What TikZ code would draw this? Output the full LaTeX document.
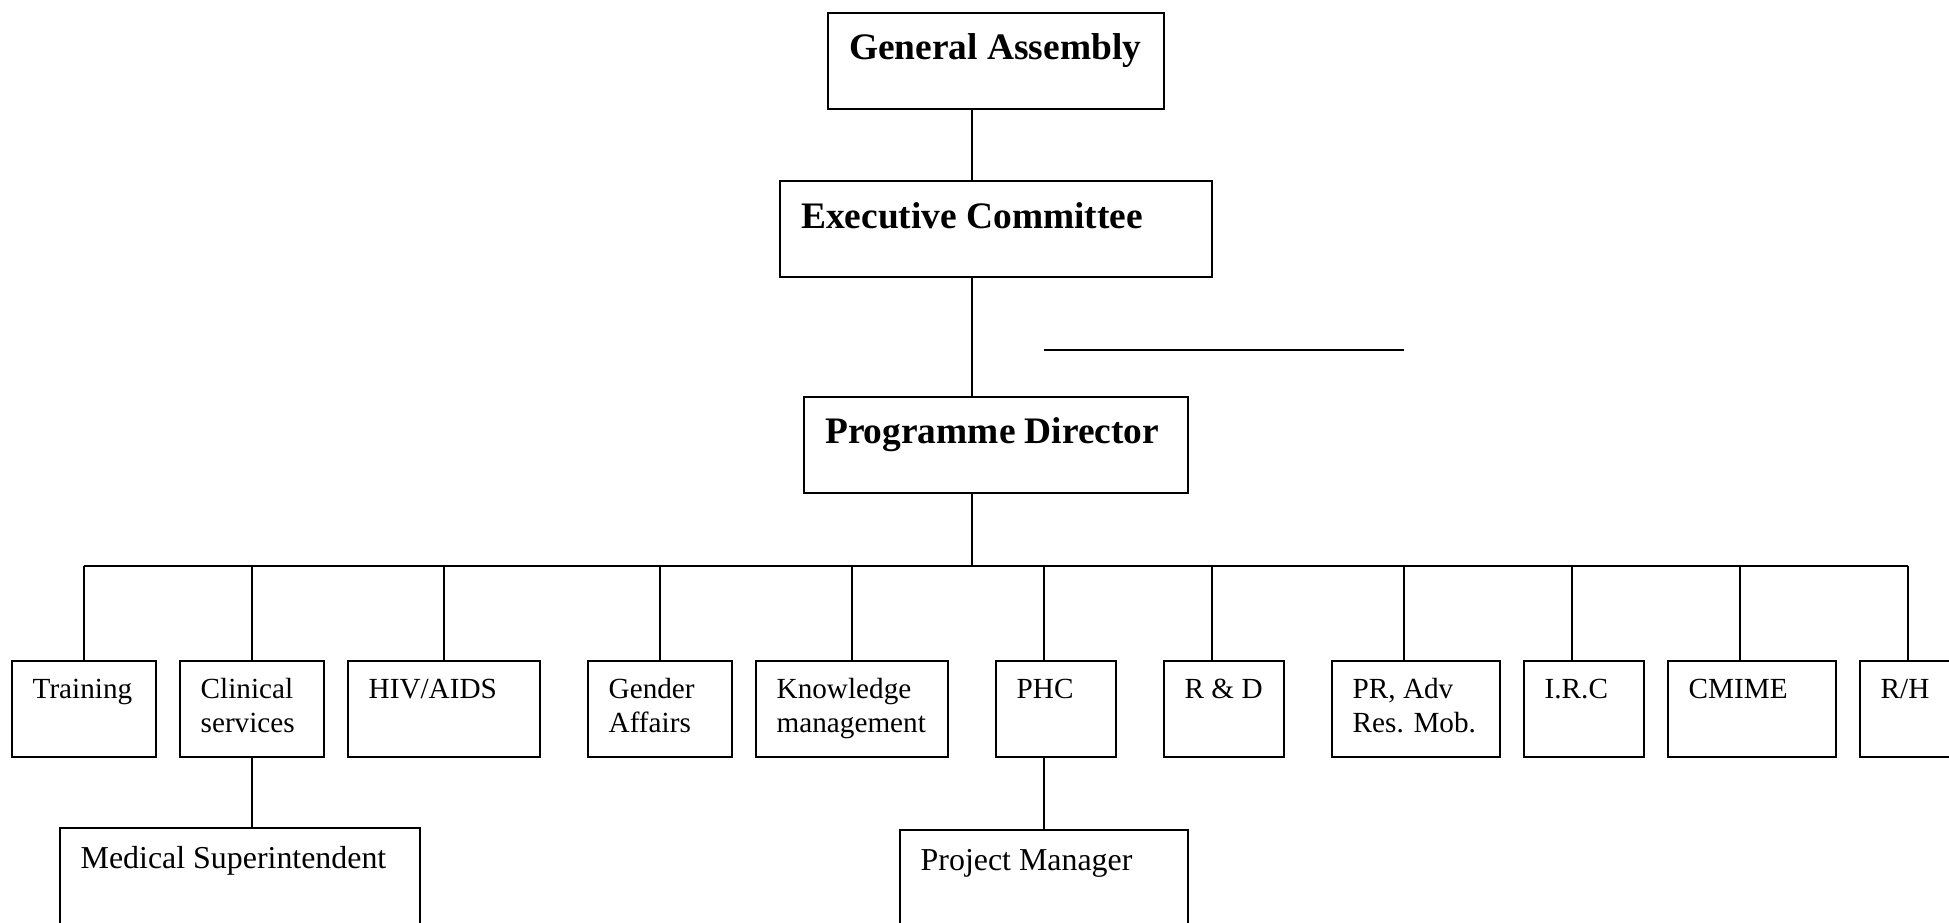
\documentclass[tikz,border=0pt]{standalone}
\usepackage{fontspec}
\setmainfont{Liberation Serif}
\begin{document}
\begin{tikzpicture}[x=1pt,y=-1pt,
  unit/.style={draw, line width=1.8pt, inner sep=0pt, outer sep=0pt,
    anchor=north west, minimum height=96pt},
  headtxt/.style={anchor=base west, inner sep=0pt,
    font=\fontsize{37.4}{42}\selectfont\bfseries},
  unittxt/.style={anchor=base west, inner sep=0pt,
    font=\fontsize{29.2}{34}\selectfont},
  subtxt/.style={anchor=base west, inner sep=0pt,
    font=\fontsize{31.9}{36}\selectfont},
  link/.style={line width=1.8pt}]
\useasboundingbox (0,0) rectangle (1949,923);

% governing bodies
\node[unit, minimum width=336pt] (ga) at (828,13) {};
\node[unit, minimum width=432pt] (ec) at (780,181) {};
\node[unit, minimum width=384pt] (pd) at (804,397) {};
\node[headtxt] (ga-t) at ([shift={(21pt,-47pt)}]ga.north west) {General Assembly};
\node[headtxt] (ec-t) at ([shift={(21pt,-47pt)}]ec.north west) {Executive Committee};
\node[headtxt] (pd-t) at ([shift={(21pt,-46.5pt)}]pd.north west) {Programme Director};

% free-standing rule beside the chain
\coordinate (rule-a) at (1044,350);
\coordinate (rule-b) at (1404,350);
\draw[link] (rule-a) -- (rule-b);

% departments
\node[unit, minimum width=144pt] (train) at (12,661) {};
\node[unit, minimum width=144pt] (clin)  at (180,661) {};
\node[unit, minimum width=192pt] (hiv)   at (348,661) {};
\node[unit, minimum width=144pt] (gend)  at (588,661) {};
\node[unit, minimum width=192pt] (know)  at (756,661) {};
\node[unit, minimum width=120pt] (phc)   at (996,661) {};
\node[unit, minimum width=120pt] (rd)    at (1164,661) {};
\node[unit, minimum width=168pt] (pr)    at (1332,661) {};
\node[unit, minimum width=120pt] (irc)   at (1524,661) {};
\node[unit, minimum width=168pt] (cmime) at (1668,661) {};
\node[unit, minimum width=120pt] (rh)    at (1860,661) {};

\node[unittxt] (train-t) at ([shift={(20.5pt,-37.3pt)}]train.north west) {Training};
\node[unittxt] (clin-t)  at ([shift={(20.5pt,-37.3pt)}]clin.north west)
  {\begin{tabular}[t]{@{}l@{}}Clinical\\services\end{tabular}};
\node[unittxt] (hiv-t)   at ([shift={(20.5pt,-37.3pt)}]hiv.north west) {HIV/AIDS};
\node[unittxt] (gend-t)  at ([shift={(20.5pt,-37.3pt)}]gend.north west)
  {\begin{tabular}[t]{@{}l@{}}Gender\\Affairs\end{tabular}};
\node[unittxt] (know-t)  at ([shift={(20.5pt,-37.3pt)}]know.north west)
  {\begin{tabular}[t]{@{}l@{}}Knowledge\\management\end{tabular}};
\node[unittxt] (phc-t)   at ([shift={(20.5pt,-37.3pt)}]phc.north west) {PHC};
\node[unittxt] (rd-t)    at ([shift={(20.5pt,-37.3pt)}]rd.north west) {R \& D};
\node[unittxt] (pr-t)    at ([shift={(20.5pt,-37.3pt)}]pr.north west)
  {\begin{tabular}[t]{@{}l@{}}PR, Adv\\Res. Mob.\end{tabular}};
\node[unittxt] (irc-t)   at ([shift={(20.5pt,-37.3pt)}]irc.north west) {I.R.C};
\node[unittxt] (cmime-t) at ([shift={(20.5pt,-37.3pt)}]cmime.north west) {CMIME};
\node[unittxt] (rh-t)    at ([shift={(20.5pt,-37.3pt)}]rh.north west) {R/H};

% sub-units
\node[unit, minimum width=360pt, minimum height=130pt] (med) at (60,828) {};
\node[unit, minimum width=288pt, minimum height=130pt] (pm)  at (900,830) {};
\node[subtxt] (med-t) at ([shift={(20.5pt,-40.3pt)}]med.north west) {Medical Superintendent};
\node[subtxt] (pm-t)  at ([shift={(20.5pt,-40pt)}]pm.north west) {Project Manager};

% chain of command
\draw[link] ([xshift=-24pt]ga.south) -- ([xshift=-24pt]ec.north);
\draw[link] ([xshift=-24pt]ec.south) -- ([xshift=-24pt]pd.north);

% entry points of the department boxes
\coordinate (bus) at (0,566);
\coordinate (train-in) at ([xshift=72pt]train.north west);
\coordinate (clin-in)  at ([xshift=72pt]clin.north west);
\coordinate (hiv-in)   at ([xshift=96pt]hiv.north west);
\coordinate (gend-in)  at ([xshift=72pt]gend.north west);
\coordinate (know-in)  at ([xshift=96pt]know.north west);
\coordinate (phc-in)   at ([xshift=48pt]phc.north west);
\coordinate (rd-in)    at ([xshift=48pt]rd.north west);
\coordinate (pr-in)    at ([xshift=72pt]pr.north west);
\coordinate (irc-in)   at ([xshift=48pt]irc.north west);
\coordinate (cmime-in) at ([xshift=72pt]cmime.north west);
\coordinate (rh-in)    at ([xshift=48pt]rh.north west);

\draw[link] ([xshift=-24pt]pd.south) -- ([xshift=-24pt]pd.south |- bus);
\draw[link] (train-in |- bus) -- (rh-in |- bus);
\foreach \u in {train,clin,hiv,gend,know,phc,rd,pr,irc,cmime,rh}
  \draw[link] (\u-in |- bus) -- (\u-in);

\draw[link] (clin.south) -- (clin.south |- med.north);
\draw[link] (phc-in |- phc.south) -- (phc-in |- pm.north);
\end{tikzpicture}
\end{document}
